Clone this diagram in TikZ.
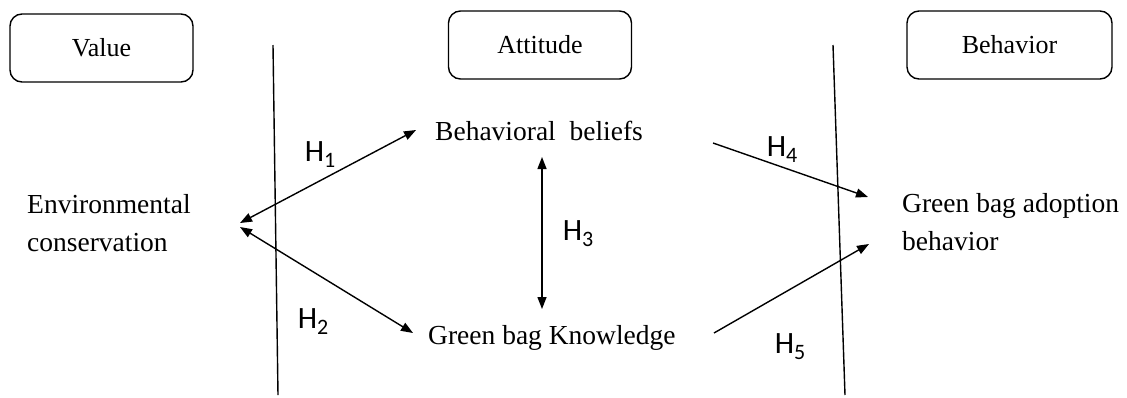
\documentclass[tikz,border=0pt]{standalone}
\usepackage{fontspec}
\setmainfont{Liberation Serif}
\newfontfamily\hfont{Carlito}
\usetikzlibrary{arrows.meta}
\newcommand{\hsub}[1]{\raisebox{-6pt}{\hfont\fontsize{22}{24}\selectfont #1}}
\begin{document}
\begin{tikzpicture}[x=1pt,y=-1pt,
  catbox/.style={draw,line width=1.4pt,rounded corners=12pt,minimum width=183pt,minimum height=68pt,inner sep=0pt,font=\fontsize{26}{30}\selectfont},
  lbl/.style={inner sep=0pt,font=\fontsize{27.5}{38}\selectfont},
  hyp/.style={inner sep=0pt,font=\hfont\fontsize{31}{33}\selectfont},
  conn/.style={line width=1.4pt,{Triangle[length=12pt,width=9pt]}-{Triangle[length=12pt,width=9pt]}},
  arr/.style={line width=1.4pt,-{Triangle[length=12pt,width=9pt]}},
  divider/.style={line width=1.4pt}]
\useasboundingbox (0,0) rectangle (1127,397);
% category boxes
\node[catbox] (value) at (101.5,48) {Value};
\node[catbox] (attitude) at (540,45) {Attitude};
\node[catbox, minimum width=205pt] (behavior) at (1009.5,45) {Behavior};
% dividers
\coordinate (d1t) at (273,45); \coordinate (d1b) at (278,395);
\coordinate (d2t) at (833,45); \coordinate (d2b) at (845,395);
\draw[divider] (d1t) -- (d1b);
\draw[divider] (d2t) -- (d2b);
% concept nodes
\node[lbl,anchor=west,align=left] (env) at (27,223) {Environmental\\conservation};
\node[lbl,anchor=base west] (bb) at (435,140) {Behavioral\ \ beliefs};
\node[lbl,anchor=base west] (gk) at (428,344) {Green bag Knowledge};
\node[lbl,anchor=west,align=left] (gb) at (902,222) {Green bag adoption\\behavior};
% connector ends
\coordinate (e1) at (240,223);
\coordinate (e2) at (240,227);
\coordinate (b1) at (416,130);
\coordinate (k1) at (413,333);
\coordinate (b3) at (542,157);
\coordinate (k3) at (542,309);
\coordinate (b4) at (713,143);
\coordinate (g4) at (868,197);
\coordinate (k5) at (714,333);
\coordinate (g5) at (869,244);
\draw[conn] (e1) -- (b1);
\draw[conn] (e2) -- (k1);
\draw[conn] (b3) -- (k3);
\draw[arr] (b4) -- (g4);
\draw[arr] (k5) -- (g5);
% hypothesis labels
\node[hyp] (h1) at (320,155) {H\hsub{1}};
\node[hyp] (h2) at (313,322) {H\hsub{2}};
\node[hyp] (h3) at (578,234) {H\hsub{3}};
\node[hyp] (h4) at (782,150) {H\hsub{4}};
\node[hyp] (h5) at (790,347) {H\hsub{5}};
\end{tikzpicture}
\end{document}
